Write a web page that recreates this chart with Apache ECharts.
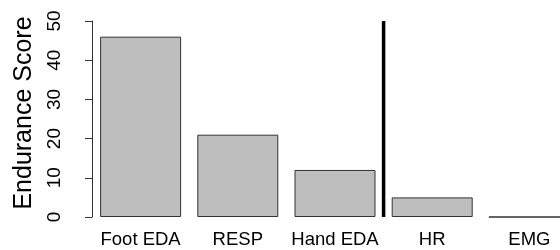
<!DOCTYPE html>
<html>
<head>
    <meta charset="utf-8">
    <title>Endurance Score</title>
    <script type="text/javascript" src="https://cdn.jsdelivr.net/npm/echarts@6/dist/echarts.min.js"></script>
</head>
<body style="margin:0;">
    <div id="main" style="width: 560px;height:250px;"></div>
    <script type="text/javascript">
        var categories = ['Foot EDA', 'RESP', 'Hand EDA', 'HR', 'EMG'];
        var scores = [46, 21, 12, 5, 0];
        var yTicks = [0, 10, 20, 30, 40, 50];
        // thick separator drawn between Hand EDA and HR
        var dividerAt = 3;

        var myChart = echarts.init(document.getElementById('main'));
        var option = {
            animation: false,
            textStyle: { fontFamily: 'Liberation Sans' },
            grid: { left: 92, top: 21, width: 486, height: 196, outerBoundsMode: 'none' },
            xAxis: [
                {
                    type: 'category',
                    data: categories,
                    axisLine: { show: false },
                    axisTick: { show: false },
                    axisLabel: { color: '#000', fontSize: 18.5, margin: 13, interval: 0 }
                },
                {
                    type: 'value', min: 0, max: categories.length,
                    show: false
                }
            ],
            yAxis: {
                type: 'value',
                min: yTicks[0],
                max: yTicks[yTicks.length - 1],
                interval: 10,
                offset: 11,
                name: 'Endurance Score',
                nameLocation: 'middle',
                nameGap: 40,
                nameTextStyle: { fontSize: 25, color: '#000', padding: [0, 0, 0, 12] },
                splitLine: { show: false },
                axisLine: { show: true, lineStyle: { color: '#333', width: 1 } },
                axisTick: { show: true, length: 7, lineStyle: { color: '#333' } },
                axisLabel: { rotate: 90, fontSize: 19, color: '#000', margin: 17 }
            },
            series: [
                {
                    type: 'bar',
                    data: scores,
                    barCategoryGap: '16.67%',
                    itemStyle: { color: '#bebebe', borderColor: '#333', borderWidth: 1 }
                },
                {
                    type: 'line',
                    xAxisIndex: 1,
                    data: [[dividerAt, yTicks[0]], [dividerAt, yTicks[yTicks.length - 1]]],
                    symbol: 'none',
                    lineStyle: { color: '#000', width: 3.5 }
                }
            ]
        };
        myChart.setOption(option);
    </script>
</body>
</html>
